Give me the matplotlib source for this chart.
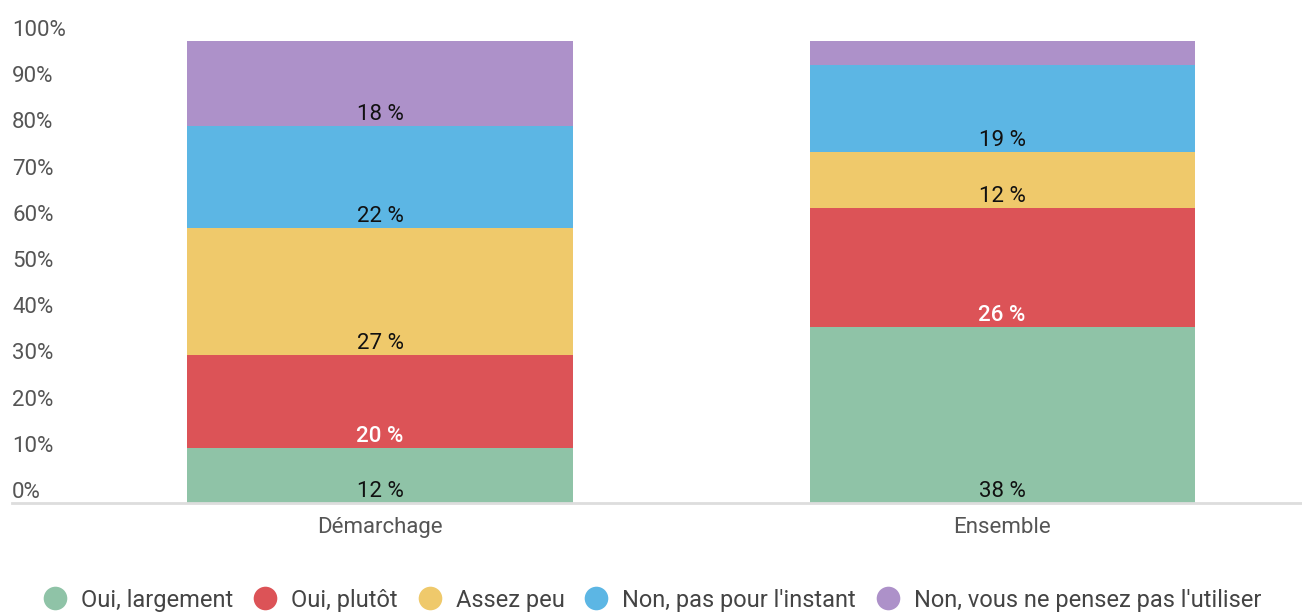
import matplotlib.pyplot as plt
from matplotlib.lines import Line2D
import matplotlib.transforms as mtransforms
import numpy as np

plt.rcParams['font.family'] = ['Roboto', 'DejaVu Sans']

categories = ["Démarchage", "Ensemble"]
series = ["Oui, largement", "Oui, plutôt", "Assez peu",
          "Non, pas pour l'instant", "Non, vous ne pensez pas l'utiliser"]
values = {
    "Oui, largement": [11.9, 38.0],
    "Oui, plutôt": [20.2, 25.8],
    "Assez peu": [27.4, 12.1],
    "Non, pas pour l'instant": [22.2, 18.9],
    "Non, vous ne pensez pas l'utiliser": [18.3, 5.2],
}
colors = ["#8fc3a7", "#dc5357", "#efc96b", "#5cb6e4", "#ad91c9"]
yticks = [0, 10, 20, 30, 40, 50, 60, 70, 80, 90, 100]

W, H = 1302, 612
fig = plt.figure(figsize=(W / 100, H / 100), dpi=100)
ax = fig.add_axes([12 / W, (H - 503) / H, (1302 - 12) / W, (503 - 41) / H])

x = np.arange(len(categories))
bottom = np.zeros(len(categories))
lab_off = mtransforms.ScaledTranslation(0, 6 / 100, fig.dpi_scale_trans)
for name, col in zip(series, colors):
    v = np.array(values[name])
    ax.bar(x, v, bottom=bottom, width=0.619, color=col, edgecolor='none')
    txt_col = 'white' if name == "Oui, plutôt" else '#111111'
    weight = 'medium' if name == "Oui, plutôt" else 'normal'
    for xi, vi, bi in zip(x, v, bottom):
        if vi < 8:
            continue
        ax.text(xi, bi, f"{round(vi):.0f} %", ha='center', va='baseline',
                fontsize=16, color=txt_col, fontweight=weight,
                transform=ax.transData + lab_off)
    bottom += v

ax.set_xlim(-0.5916, 1.482)
ax.set_ylim(0, 100)
for s in ['top', 'right', 'left']:
    ax.spines[s].set_visible(False)
ax.spines['bottom'].set_color('#dddddd')
ax.spines['bottom'].set_linewidth(2)
ax.set_yticks([])
ax.set_xticks(x)
ax.set_xticklabels(categories, fontsize=16, color='#555555')
ax.tick_params(axis='x', length=0, pad=10)

off = mtransforms.ScaledTranslation(0, 5 / 100, fig.dpi_scale_trans)
for yt in yticks:
    ax.text(0, yt, f"{yt}%", ha='left', va='baseline', fontsize=16, color='#555555',
            transform=mtransforms.blended_transform_factory(ax.transAxes, ax.transData) + off)

handles = [Line2D([], [], marker='o', linestyle='none', markersize=17,
                  markerfacecolor=c, markeredgecolor='none') for c in colors]
fig.legend(handles, series, loc='center', bbox_to_anchor=(0.5, (H - 600) / H),
           ncol=5, frameon=False, fontsize=17, labelcolor='#444444',
           handletextpad=0.5, columnspacing=0.75, handlelength=1.2)

fig.savefig("out.png", dpi=100)
